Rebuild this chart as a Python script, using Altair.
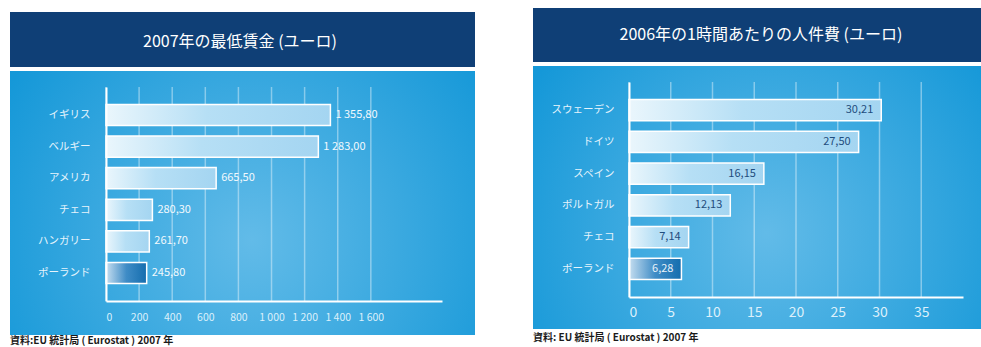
import altair as alt
import pandas as pd

FONT = "Noto Sans CJK JP"

# ---- data ----
left_countries = ["イギリス", "ベルギー", "アメリカ", "チェコ", "ハンガリー", "ポーランド"]
left_values = [1355.80, 1283.00, 665.50, 280.30, 261.70, 245.80]
left_labels = ["1 355,80", "1 283,00", "665,50", "280,30", "261,70", "245,80"]
left_ticks = [0, 200, 400, 600, 800, 1000, 1200, 1400, 1600]

right_countries = ["スウェーデン", "ドイツ", "スペイン", "ポルトガル", "チェコ", "ポーランド"]
right_values = [30.21, 27.50, 16.15, 12.13, 7.14, 6.28]
right_labels = ["30,21", "27,50", "16,15", "12,13", "7,14", "6,28"]
right_ticks = [0, 5, 10, 15, 20, 25, 30, 35]

left_title = "2007年の最低賃金 (ユーロ)"
right_title = "2006年の1時間あたりの人件費 (ユーロ)"
left_source = "資料:EU 統計局 ( Eurostat ) 2007 年"
right_source = "資料: EU 統計局 ( Eurostat ) 2007 年"

HIGHLIGHT = "ポーランド"

# ---- styles ----
HEADER = "#0f3f76"
body_grad = alt.RadialGradient(
    gradient="radial", x1=0.52, y1=0.58, r1=0, x2=0.52, y2=0.58, r2=0.62,
    stops=[alt.GradientStop(color="#62bbe8", offset=0),
           alt.GradientStop(color="#1598d8", offset=1)])
bar_grad = alt.LinearGradient(
    gradient="linear", x1=0, y1=0, x2=1, y2=0,
    stops=[alt.GradientStop(color="#eaf6fc", offset=0),
           alt.GradientStop(color="#b6dff5", offset=0.45),
           alt.GradientStop(color="#a4d5f1", offset=1)])
hl_grad = alt.LinearGradient(
    gradient="linear", x1=0, y1=0, x2=1, y2=0,
    stops=[alt.GradientStop(color="#c6def0", offset=0),
           alt.GradientStop(color="#3f8cc6", offset=0.5),
           alt.GradientStop(color="#146dae", offset=1)])


def panel(countries, values, labels, ticks, xmax, W, H, title, source, o):
    df = pd.DataFrame({"country": countries, "value": values, "label": labels})
    tdf = pd.DataFrame({"t": ticks})
    one = pd.DataFrame({"a": [0]})
    y0 = o["y0"]

    xs = alt.Scale(domain=[0, xmax], nice=False, zero=True)
    ys = alt.Scale(domain=countries, range=[y0, H], paddingInner=0.33, paddingOuter=0.55)
    xaxis = alt.Axis(values=ticks, grid=False, ticks=False, domainColor="white",
                     domainWidth=2, labelColor="#dcf0fb", labelFontSize=o["tfs"],
                     labelPadding=o["tpad"], labelExpr=o["lexpr"], title=None, zindex=1)
    yaxis = alt.Axis(title=None, ticks=False, domainColor="white", domainWidth=2,
                     labelColor="#e6f4fc", labelFontSize=10.5, labelPadding=o["ypad"],
                     zindex=1)

    spacer = alt.Chart(one).mark_rect(fill="white").encode(
        x=alt.value(-96), x2=alt.value(-95), y=alt.value(-74), y2=alt.value(-73))
    body = alt.Chart(one).mark_rect(fill=body_grad).encode(
        x=alt.value(-96), x2=alt.value(o["bx2"]), y=alt.value(o["by1"]), y2=alt.value(o["by2"]))
    header = alt.Chart(one).mark_rect(fill=HEADER).encode(
        x=alt.value(-96), x2=alt.value(o["bx2"]), y=alt.value(o["hy1"]), y2=alt.value(o["hy2"]))
    ttl = alt.Chart(one).mark_text(color="white", fontSize=16, align="center",
                                   baseline="middle", text=title).encode(
        x=alt.value(o["tx"]), y=alt.value(o["ty"]))
    src = alt.Chart(one).mark_text(color="#1a1a1a", fontSize=o["sfs"], fontWeight="bold",
                                   align="left", baseline="middle", text=source).encode(
        x=alt.value(-96), y=alt.value(o["sy"]))
    grid = alt.Chart(tdf).mark_rule(color="white", opacity=0.4, strokeWidth=1.5).encode(
        x=alt.X("t:Q", scale=xs, axis=xaxis), y=alt.value(y0), y2=alt.value(H))
    bars = alt.Chart(df).transform_filter(f"datum.country != '{HIGHLIGHT}'").mark_bar(
        fill=bar_grad, stroke="white", strokeWidth=1.5).encode(
        x=alt.X("value:Q", scale=xs, axis=xaxis),
        y=alt.Y("country:N", scale=ys, sort=countries, axis=yaxis))
    hl = alt.Chart(df).transform_filter(f"datum.country == '{HIGHLIGHT}'").mark_bar(
        fill=hl_grad, stroke="white", strokeWidth=1.5).encode(
        x=alt.X("value:Q", scale=xs, axis=xaxis),
        y=alt.Y("country:N", scale=ys, sort=countries, axis=yaxis))
    if o["inside"]:
        txt = alt.Chart(df).mark_text(align="right", dx=-8, fontSize=11, baseline="middle").encode(
            x=alt.X("value:Q", scale=xs, axis=xaxis),
            y=alt.Y("country:N", scale=ys, sort=countries, axis=yaxis),
            text="label:N",
            color=alt.condition(f"datum.country == '{HIGHLIGHT}'",
                                alt.value("#e8f1f9"), alt.value("#1f4d7d")))
    else:
        txt = alt.Chart(df).mark_text(align="left", dx=5, fontSize=11, baseline="middle",
                                      color="#f2f9fd").encode(
            x=alt.X("value:Q", scale=xs, axis=xaxis),
            y=alt.Y("country:N", scale=ys, sort=countries, axis=yaxis),
            text="label:N")
    return alt.layer(spacer, body, header, ttl, src, grid, bars, hl, txt).properties(
        width=W, height=H)


# both panels share plot origin y = 82 (absolute); the left content sits 5 px lower
left = panel(left_countries, left_values, left_labels, left_ticks, 2030, 336, 219,
             left_title, left_source,
             dict(y0=5, tfs=10.5, tpad=11, ypad=16,
                  lexpr="replace(format(datum.value, ','), ',', ' ')",
                  bx2=369, by1=-11, by2=253, hy1=-70, hy2=-15, tx=134, ty=-40, sy=259, sfs=10,
                  inside=False))
right = panel(right_countries, right_values, right_labels, right_ticks, 40, 334, 215,
              right_title, right_source,
              dict(y0=0, tfs=14, tpad=8, ypad=15, lexpr="format(datum.value, 'd')",
                   bx2=352, by1=-16, by2=247, hy1=-74, hy2=-20, tx=132, ty=-47, sy=256, sfs=10,
                   inside=True))

chart = alt.hconcat(left, right, spacing=58).properties(
    padding={"left": 10, "top": 8, "right": 0, "bottom": 0}
).configure(font=FONT).configure_view(stroke=None)

chart.save("out.html", embed_options={"renderer": "svg", "actions": False})
